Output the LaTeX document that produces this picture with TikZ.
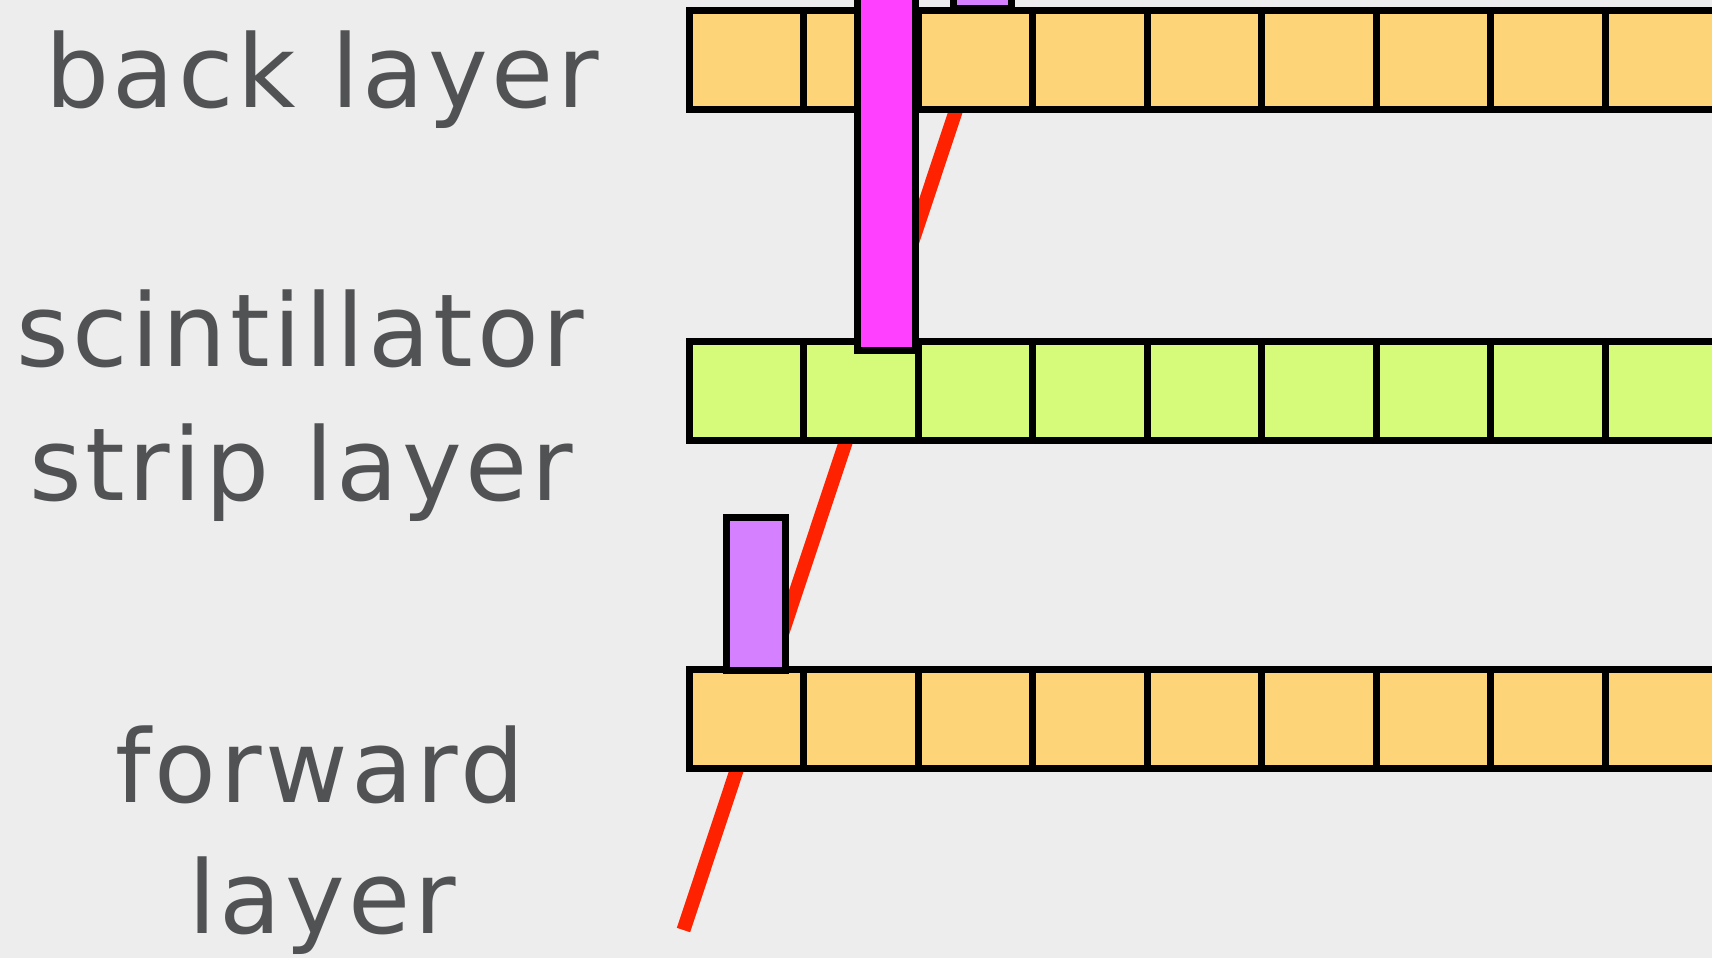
\documentclass[tikz,border=0pt]{standalone}
\usepackage{fontspec}
\setmainfont{DejaVu Sans}
\newfontfamily\lblfont[LetterSpace=3.5]{DejaVu Sans}
\definecolor{bgc}{HTML}{EDEDED}
\definecolor{orangec}{HTML}{FED479}
\definecolor{greenc}{HTML}{D6FB7A}
\definecolor{magc}{HTML}{FF40FF}
\definecolor{purc}{HTML}{D580FF}
\definecolor{redc}{HTML}{FF2200}
\definecolor{txtc}{HTML}{505254}
\tikzset{
  cellbox/.style={draw=black, line width=7pt, minimum width=114.5pt, minimum height=98.5pt, inner sep=0pt, outer sep=0pt},
  cellO/.style={cellbox, fill=orangec},
  cellG/.style={cellbox, fill=greenc},
  barbox/.style={draw=black, line width=7pt, inner sep=0pt, outer sep=0pt},
  lbl/.style={anchor=base, text=txtc, inner sep=0pt, font=\lblfont\fontsize{101}{101}\selectfont},
  track/.style={draw=redc, line width=14pt}
}
\begin{document}
\begin{tikzpicture}[x=1pt,y=-1pt]
\useasboundingbox (0,0) rectangle (1712,958);
\fill[bgc] (0,0) rectangle (1712,958);
\begin{scope}
\clip (0,0) rectangle (1712,958);
% track
\coordinate (trkA) at (683.5,930);
\coordinate (trkB) at (971,65);
\draw[track] (trkA) -- (trkB);
% layers
\foreach \i in {0,...,9} {
  \node[cellO] (b\i) at ({746.25+114.5*\i}, 60) {};
  \node[cellG] (s\i) at ({746.25+114.5*\i}, 390.75) {};
  \node[cellO] (f\i) at ({746.25+114.5*\i}, 719) {};
}
% hits
\node[barbox, fill=magc, minimum width=58pt, minimum height=370pt] (hitA) at (886.5,165) {};
\node[barbox, fill=purc, minimum width=58pt, minimum height=30pt] (hitB) at (982,-6) {};
\node[barbox, fill=purc, minimum width=58.5pt, minimum height=152.5pt] (hitC) at (755.75,593.75) {};
\end{scope}
% labels
\node[lbl] (tback) at (322,107) {back layer};
\node[lbl] (tsc1) at (300,366) {scintillator};
\node[lbl] (tsc2) at (301,500) {strip layer};
\node[lbl] (tfw1) at (320,802) {forward};
\node[lbl] (tfw2) at (322,933) {layer};
\end{tikzpicture}
\end{document}
